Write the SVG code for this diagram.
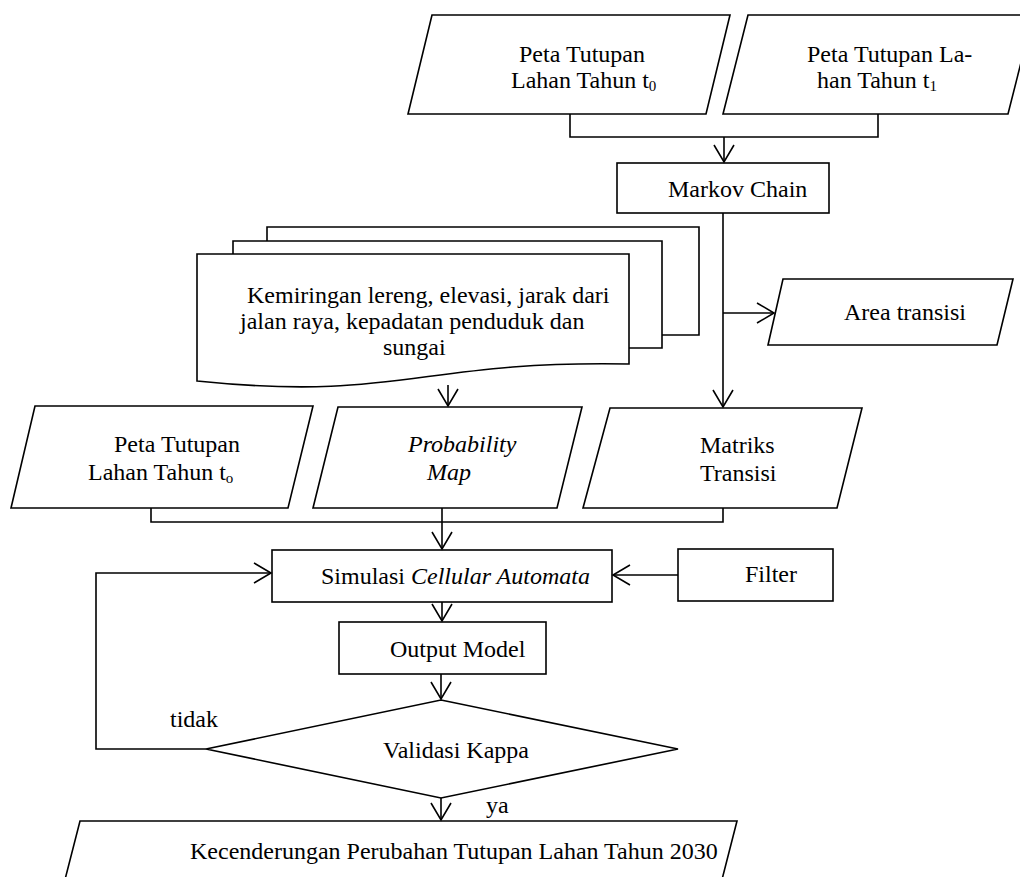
<svg xmlns="http://www.w3.org/2000/svg" width="1020" height="877" viewBox="0 0 1020 877">
<style>
.s{fill:#fff;stroke:#000;stroke-width:1.6;stroke-linejoin:miter}
.c{fill:none;stroke:#000;stroke-width:1.6}
text{font-family:"Liberation Serif","Times New Roman",serif;font-size:24px;fill:#000}
.i{font-style:italic}
.sub{font-size:15px}
</style>
<defs>
<marker id="ah" markerUnits="userSpaceOnUse" viewBox="0 0 20 22" refX="18" refY="11" markerWidth="20" markerHeight="22" orient="auto">
<path d="M1,1 L18,11 L1,21" fill="none" stroke="#000" stroke-width="1.6"/>
</marker>
</defs>
<rect width="1020" height="877" fill="#fff"/>

<g id="peta-t0-top">
<polygon class="s" points="432,15 730,15 706,114 408,114"/>
<text x="519" y="62">Peta Tutupan</text>
<text x="511" y="88">Lahan Tahun t<tspan class="sub" dy="3">0</tspan></text>
</g>
<g id="peta-t1">
<polygon class="s" points="748,15 1033,15 1008,114 723,114"/>
<text x="807" y="62">Peta Tutupan La-</text>
<text x="817" y="88">han Tahun t<tspan class="sub" dy="3">1</tspan></text>
</g>
<g id="markov">
<rect class="s" x="617" y="163" width="212" height="50"/>
<text x="668" y="197">Markov Chain</text>
</g>
<g id="faktor">
<path class="s" d="M267,241 V227 H699 V335 H662"/>
<path class="s" d="M233,254 V241 H662 V348 H629"/>
<path class="s" d="M197,254 H629 V364 C420,360 400,402 197,381 Z"/>
<text x="247" y="303">Kemiringan lereng, elevasi, jarak dari</text>
<text x="240" y="329">jalan raya, kepadatan penduduk dan</text>
<text x="383" y="355">sungai</text>
</g>
<g id="area-transisi">
<polygon class="s" points="783,279 1013,279 997,345 768,345"/>
<text x="844" y="320">Area transisi</text>
</g>
<g id="peta-t0-bottom">
<polygon class="s" points="35,406 313,406 288,508 11,508"/>
<text x="114" y="452">Peta Tutupan</text>
<text x="88" y="480">Lahan Tahun t<tspan class="sub" dy="3">o</tspan></text>
</g>
<g id="probability">
<polygon class="s" points="338,407 582,407 557,508 313,508"/>
<text class="i" x="408" y="452">Probability</text>
<text class="i" x="427" y="480">Map</text>
</g>
<g id="matriks">
<polygon class="s" points="610,408 862,408 837,508 583,508"/>
<text x="700" y="453">Matriks</text>
<text x="700" y="481">Transisi</text>
</g>
<g id="simulasi">
<rect class="s" x="272" y="550" width="340" height="52"/>
<text x="321" y="584">Simulasi <tspan class="i">Cellular Automata</tspan></text>
</g>
<g id="filter">
<rect class="s" x="678" y="549" width="155" height="52"/>
<text x="745" y="582">Filter</text>
</g>
<g id="output">
<rect class="s" x="339" y="622" width="207" height="52"/>
<text x="390" y="657">Output Model</text>
</g>
<g id="validasi">
<polygon class="s" points="441,700 678,749 441,798 206,749"/>
<text x="383" y="758">Validasi Kappa</text>
</g>
<g id="kecenderungan">
<polygon class="s" points="80,821 737,821 716,903 59,903"/>
<text x="190" y="859">Kecenderungan Perubahan Tutupan Lahan Tahun 2030</text>
</g>

<g id="connectors">
<path class="c" d="M570,114 V137 H878 V114"/>
<path class="c" d="M724,137 V162" marker-end="url(#ah)"/>
<path class="c" d="M723,213 V407" marker-end="url(#ah)"/>
<path class="c" d="M723,313 H774" marker-end="url(#ah)"/>
<path class="c" d="M448,385 V406" marker-end="url(#ah)"/>
<path class="c" d="M151,508 V522 H723 V508"/>
<path class="c" d="M442,508 V549" marker-end="url(#ah)"/>
<path class="c" d="M678,575 H613" marker-end="url(#ah)"/>
<path class="c" d="M442,602 V621" marker-end="url(#ah)"/>
<path class="c" d="M441,674 V699" marker-end="url(#ah)"/>
<path class="c" d="M441,798 V820" marker-end="url(#ah)"/>
<path class="c" d="M206,749 H96 V573 H271" marker-end="url(#ah)"/>
<text x="170" y="727">tidak</text>
<text x="486" y="813">ya</text>
</g>
</svg>
